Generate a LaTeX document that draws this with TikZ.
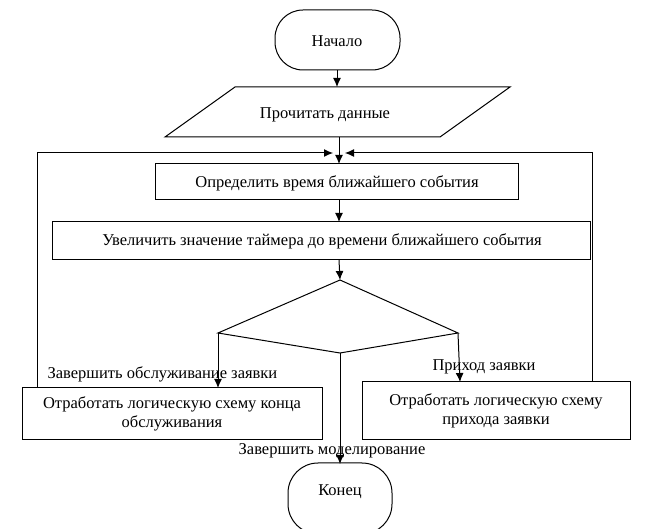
\documentclass[tikz,border=0pt]{standalone}
\usepackage{fontspec}
\setmainfont{Liberation Serif}
\usetikzlibrary{arrows.meta}
\begin{document}
\begin{tikzpicture}[x=1pt,y=-1pt,
  txt/.style={font=\fontsize{16.5}{19}\selectfont},
  ln/.style={draw=black, line width=1pt},
  arr/.style={ln,-{Latex[length=9pt,width=8pt]}}]
\useasboundingbox (0,0) rectangle (654,529);
% start
\draw[ln, rounded corners=28pt] (275,10) rectangle (400,70);
\node[txt] (start) at (337,41) {Начало};
\coordinate (sb) at (337,70);
% parallelogram
\draw[ln] (235,87) -- (510,87) -- (440,137) -- (165,137) -- cycle;
\node[txt] (read) at (325,115) {Прочитать данные};
\coordinate (rt) at (337,87);
\coordinate (rb) at (339,137);
\draw[arr] (sb) -- (rt);
% box1
\draw[ln] (155,164) rectangle (518,200);
\node[txt] (b1) at (337,183) {Определить время ближайшего события};
\coordinate (b1t) at (339,164);
\coordinate (b1b) at (339,200);
\draw[arr] (rb) -- (b1t);
% box2
\draw[ln] (52,222) rectangle (590,260);
\node[txt] (b2) at (322,241) {Увеличить значение таймера до времени ближайшего события};
\coordinate (b2t) at (339,222);
\coordinate (b2b) at (339,260);
\draw[arr] (b1b) -- (b2t);
% diamond
\coordinate (dt) at (340,280);
\coordinate (dl) at (218,333);
\coordinate (dr) at (458,333);
\coordinate (db) at (340,353);
\draw[ln] (dt) -- (dr) -- (db) -- (dl) -- cycle;
\draw[arr] (b2b) -- (dt);
% box3
\draw[ln] (22,388) rectangle (322,440);
\node[txt, align=center] (b3) at (172,414) {Отработать логическую схему конца\\обслуживания};
\coordinate (b3t) at (218,388);
\draw[arr] (dl) -- (b3t);
\node[txt, anchor=west] (l3) at (44,374) {Завершить обслуживание заявки};
% box4
\draw[ln] (362,382) rectangle (630,440);
\node[txt, align=center] (b4) at (496,411) {Отработать логическую схему\\прихода заявки};
\coordinate (b4t) at (460,382);
\draw[arr] (dr) -- (b4t);
\node[txt] (l4) at (484,367) {Приход заявки};
% end
\draw[ln, rounded corners=30pt] (288,463) rectangle (392,534);
\node[txt] (end) at (340,492) {Конец};
\coordinate (et) at (340,464);
\draw[arr] (db) -- (et);
\node[txt] (l5) at (332,451) {Завершить моделирование};
% loops
\coordinate (lp) at (333,153);
\coordinate (rp) at (345,153);
\draw[arr] (37,387) -- (37,153) -- (lp);
\draw[arr] (592,381) -- (592,153) -- (rp);
\end{tikzpicture}
\end{document}
